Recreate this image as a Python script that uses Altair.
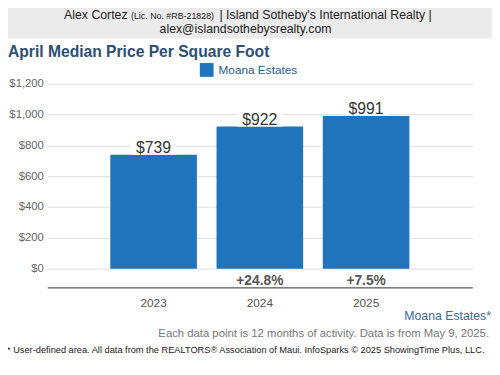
import altair as alt
import pandas as pd

years = ["2023", "2024", "2025"]
values = [739, 922, 991]
changes = ["", "+24.8%", "+7.5%"]
area = "Moana Estates"
y_ticks = [0, 200, 400, 600, 800, 1000, 1200]

df = pd.DataFrame({
    "year": years,
    "value": values,
    "change": changes,
    "area": [area] * len(years),
})

FONT = "Liberation Sans"

x_axis = alt.Axis(
    title=None, labelAngle=0, ticks=False, labelPadding=10,
    labelFontSize=12, labelColor="#555555", labelFont=FONT,
    domainColor="#555555", domainWidth=1.2, grid=False,
)
x_scale = alt.Scale(paddingInner=0.185, paddingOuter=0.5925)
x_enc = alt.X("year:N", scale=x_scale, axis=x_axis)

y_axis = alt.Axis(
    title=None, values=y_ticks, format="$,.0f", domain=False,
    ticks=False, labelPadding=4, labelFontSize=11.5,
    labelColor="#666666", labelFont=FONT, gridColor="#dddddd",
    labelOverlap=False, labelBound=False, labelFlush=False,
)
y_scale = alt.Scale(domain=[-121.3, 1200], nice=False, zero=False)

base = alt.Chart(df)

bars = base.mark_bar(cornerRadius=0).encode(
    x=x_enc,
    y=alt.Y("value:Q", scale=y_scale, axis=y_axis),
    y2=alt.datum(0),
    color=alt.Color(
        "area:N",
        scale=alt.Scale(range=["#1F74BB"]),
        legend=alt.Legend(
            title=None, orient="none", legendX=155, legendY=-21,
            symbolType="square", symbolSize=196, symbolStrokeWidth=0,
            labelFontSize=12, labelColor="#2C5A8C", labelFont=FONT,
            padding=0, labelOffset=5,
        ),
    ),
)

label_bg = base.transform_calculate(
    top="datum.value + 120"
).mark_bar(color="white", size=46).encode(
    x=x_enc,
    y=alt.Y("value:Q", scale=y_scale, axis=y_axis),
    y2="top:Q",
)

labels = base.mark_text(
    fontSize=16, color="#333333", font=FONT, baseline="alphabetic", dy=-2
).encode(
    x=x_enc,
    y=alt.Y("value:Q", scale=y_scale, axis=y_axis),
    text=alt.Text("value:Q", format="$,.0f"),
)

pct = base.mark_text(
    fontSize=14, fontWeight="bold", color="#555555", font=FONT, baseline="alphabetic"
).encode(
    x=x_enc,
    y=alt.value(204.5),
    text="change:N",
)

one = alt.Chart(pd.DataFrame({"k": [0]}))

header_band = one.mark_rect(color="#EBEBEB").encode(
    x=alt.value(-48), x2=alt.value(452), y=alt.value(-82), y2=alt.value(-46)
)

def txt(s, x, y, size, color, align="left", weight="normal"):
    return one.mark_text(
        text=s, fontSize=size, color=color, align=align, font=FONT,
        fontWeight=weight, baseline="alphabetic",
    ).encode(x=alt.value(x), y=alt.value(y))

texts = [
    txt("Alex Cortez", 17, -66, 12.5, "#222222"),
    txt("(Lic. No. #RB-21828)", 85, -66, 9, "#222222"),
    txt("| Island Sotheby's International Realty |", 175, -66, 12.5, "#222222"),
    txt("alex@islandsothebysrealty.com", 201.5, -51.5, 12.5, "#222222", align="center"),
    txt("April Median Price Per Square Foot", -40, -27.5, 15.9, "#2C4F76",
        weight="bold"),
    txt("Moana Estates*", 451, 240, 12.5, "#3E6A9E", align="right"),
    txt("Each data point is 12 months of activity. Data is from May 9, 2025.",
        449, 257, 11.5, "#777777", align="right"),
    txt("* User-defined area. All data from the REALTORS\u00ae Association of Maui. "
        "InfoSparks \u00a9 2025 ShowingTime Plus, LLC.",
        -41, 274, 9.4, "#222222"),
]

chart = alt.layer(
    header_band, bars, label_bg, labels, pct, *texts
).properties(
    width=432,
    height=207,
    padding={"left": 40, "top": 74, "right": 20, "bottom": 78},
    autosize=alt.AutoSizeParams(type="none"),
).configure_view(stroke=None)

chart.save("out.html", embed_options={"renderer": "svg", "actions": False})
